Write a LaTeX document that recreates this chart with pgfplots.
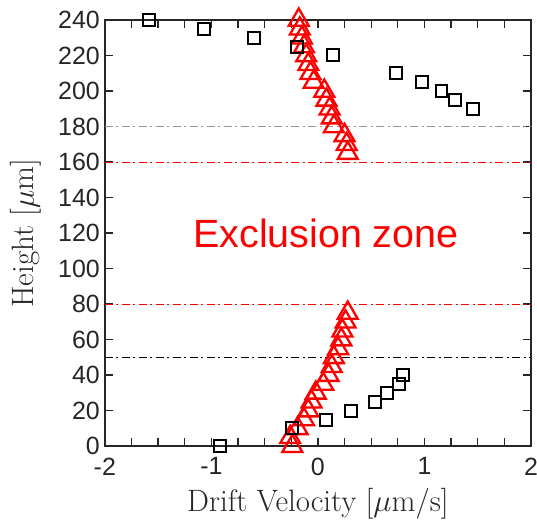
\RequirePackage{fix-cm}
\documentclass[border=0pt]{standalone}
\usepackage{fontspec}
\newfontfamily\arial{Liberation Sans}
\usepackage{pgfplots}
\pgfplotsset{compat=1.18}
\usetikzlibrary{calc}
\definecolor{axgray}{HTML}{262626}
\definecolor{refgray}{HTML}{969696}
\tikzset{
  dd/.style={line width=1pt, dash pattern=on 8pt off 3.5pt on 2pt off 3.5pt},
}

\begin{document}
\begin{tikzpicture}
\begin{axis}[
    scale only axis, width=427pt, height=427pt,
    xmin=-2, xmax=2, ymin=0, ymax=240,
    xtick={-2,-1,0,1,2}, xticklabels={-2,-1,0,1,2},
    minor x tick num=3,
    ytick={0,20,...,240},
    tick align=inside, major tick length=8pt, minor tick length=8pt,
    axis line style={axgray, line width=1.5pt},
    tick style={axgray, line width=1.3pt},
    /pgf/number format/assume math mode=true,
    ticklabel style={font=\arial\fontsize{25}{30}\selectfont, text=axgray},
    xticklabel shift=8pt, yticklabel shift=1.5pt,
    xlabel={Drift Velocity [$\mu$m/s]},
    ylabel={Height [$\mu$m]},
    label style={font=\rmfamily\fontsize{31}{36}\selectfont, text=axgray},
    xlabel style={at={([yshift=-65.7pt]rel axis cs:0.5,0)}, anchor=base},
    ylabel style={at={([xshift=-71pt]rel axis cs:0,0.5)}, anchor=base},
    clip=false,
]
% reference heights
\addplot[refgray, dd] coordinates {(-2,180) (2,180)};
\addplot[red, dd] coordinates {(-2,160) (2,160)};
\addplot[red, dd] coordinates {(-2,80) (2,80)};
\addplot[black, dd] coordinates {(-2,50) (2,50)};

% red triangles
\addplot[only marks, mark=triangle, mark size=11.5pt, red, line width=2.3pt] coordinates {
    (-0.18,240) (-0.17,235) (-0.15,230) (-0.13,225) (-0.11,220) (-0.09,215)
    (-0.07,210) (-0.04,205) (0.06,200) (0.08,195) (0.11,190) (0.13,185)
    (0.15,180) (0.25,175) (0.27,170) (0.28,165)
};
\addplot[only marks, mark=triangle, mark size=11.5pt, red, line width=2.3pt] coordinates {
    (-0.24,0) (-0.26,5) (-0.19,10) (-0.13,15) (-0.09,20) (-0.06,25)
    (-0.02,30) (0.05,35) (0.10,40) (0.13,45) (0.15,50) (0.19,55)
    (0.22,60) (0.23,65) (0.26,70) (0.28,75)
};

% black squares
\addplot[only marks, mark=square, mark size=6pt, black, line width=2pt] coordinates {
    (-1.585,240) (-1.07,235) (-0.60,230) (-0.20,225) (0.14,220)
    (0.73,210) (0.98,205) (1.16,200) (1.285,195) (1.46,190)
};
\addplot[only marks, mark=square, mark size=6pt, black, line width=2pt] coordinates {
    (-0.92,0) (-0.24,10) (0.077,15) (0.31,20) (0.54,25) (0.65,30) (0.76,35) (0.80,40)
};

\node[text=red, font=\arial\fontsize{39.5}{45}\selectfont, anchor=base] at (axis cs:0.075,111.7) {Exclusion zone};

\coordinate (ll) at (rel axis cs:0,0);
\coordinate (ur) at (rel axis cs:1,1);
\end{axis}
\pgfresetboundingbox
\path[use as bounding box] ($(ll)+(-105pt,-77pt)$) rectangle ($(ur)+(6pt,20pt)$);
\end{tikzpicture}
\end{document}
